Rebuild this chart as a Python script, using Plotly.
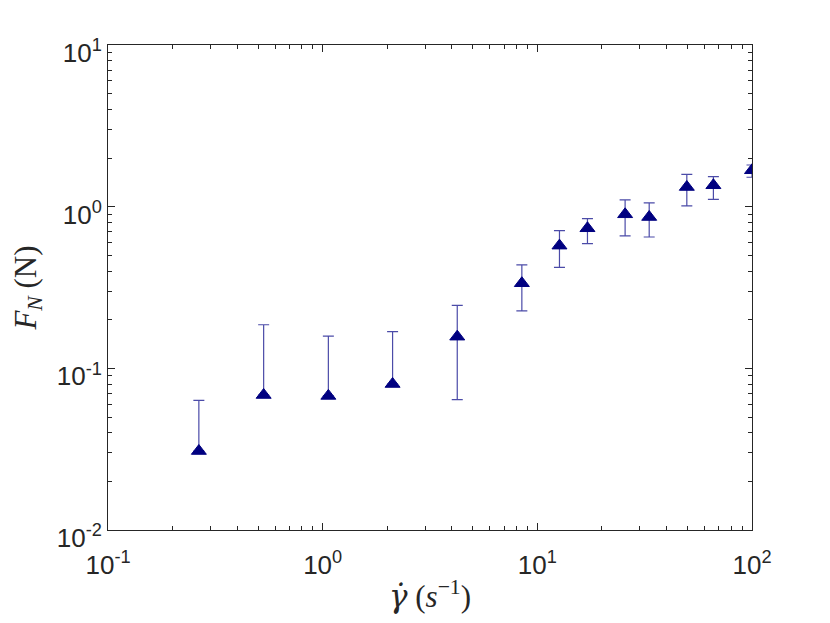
import plotly.graph_objects as go

# Data
shear_rate = [0.265, 0.531, 1.063, 2.117, 4.236, 8.47, 12.68, 17.12, 25.64, 33.2, 49.7, 66.1, 100.0]
normal_force = [0.0308, 0.0684, 0.0675, 0.080, 0.157, 0.336, 0.574, 0.735, 0.897, 0.863, 1.323, 1.356, 1.679]
force_upper = [0.0634, 0.186, 0.158, 0.1685, 0.2455, 0.436, 0.710, 0.843, 1.10, 1.054, 1.586, 1.532, 1.81]
force_lower = [None, None, None, None, 0.064, 0.2264, 0.4217, 0.590, 0.659, 0.649, 1.01, 1.11, 1.52]

x_tickvals = [0.1, 1, 10, 100]
x_ticktext = ["10<sup>-1</sup>", "10<sup>0</sup>", "10<sup>1</sup>", "10<sup>2</sup>"]
y_tickvals = [0.01, 0.1, 1, 10]
y_ticktext = ["10<sup>-2</sup>", "10<sup>-1</sup>", "10<sup>0</sup>", "10<sup>1</sup>"]
x_minor = [m * 10 ** e for e in (-1, 0, 1) for m in range(2, 10)]
y_minor = [m * 10 ** e for e in (-2, -1, 0) for m in range(2, 10)]

err_plus = [u - v for u, v in zip(force_upper, normal_force)]
err_minus = [0 if lo is None else v - lo for lo, v in zip(force_lower, normal_force)]

AX = "#262626"

fig = go.Figure()
fig.add_trace(go.Scatter(
    x=shear_rate, y=normal_force, mode="markers",
    marker=dict(symbol="triangle-up", size=13, color="#000080",
                line=dict(color="#000080", width=1)),
    error_y=dict(type="data", symmetric=False, array=err_plus, arrayminus=err_minus,
                 color="#4b4ba8", thickness=1.2, width=5.5),
    showlegend=False,
))

axis_common = dict(
    type="log", showline=True, linecolor=AX, linewidth=1, mirror="allticks",
    ticks="inside", ticklen=7, tickcolor=AX, tickwidth=1,
    showgrid=False, zeroline=False,
    tickfont=dict(family="Liberation Sans", size=26, color=AX),
)

gamma = '<span style="font-family:DejaVu Serif"><i>γ̇</i></span>'

fig.update_layout(
    width=822, height=615,
    margin=dict(l=100, r=78, t=37, b=93),
    paper_bgcolor="white", plot_bgcolor="white",
    xaxis=dict(**axis_common, range=[-1, 2], tickmode="array",
               tickvals=x_tickvals, ticktext=x_ticktext, ticklabelstandoff=12,
               minor=dict(tickmode="array", tickvals=x_minor, ticks="inside",
                          ticklen=4, tickcolor=AX, tickwidth=1, showgrid=False),
               title=dict(text=gamma + " (<i>s</i><sup>−1</sup>)",
                          font=dict(family="Liberation Serif", size=31, color=AX),
                          standoff=6)),
    yaxis=dict(**axis_common, range=[-2, 1], tickmode="array",
               tickvals=y_tickvals, ticktext=y_ticktext, ticklabelshift=8,
               minor=dict(tickmode="array", tickvals=y_minor, ticks="inside",
                          ticklen=4, tickcolor=AX, tickwidth=1, showgrid=False),
               title=dict(text="<i>F</i><sub><i>N</i></sub> (N)",
                          font=dict(family="Liberation Serif", size=31, color=AX),
                          standoff=12)),
)

fig.write_html("out.html")
